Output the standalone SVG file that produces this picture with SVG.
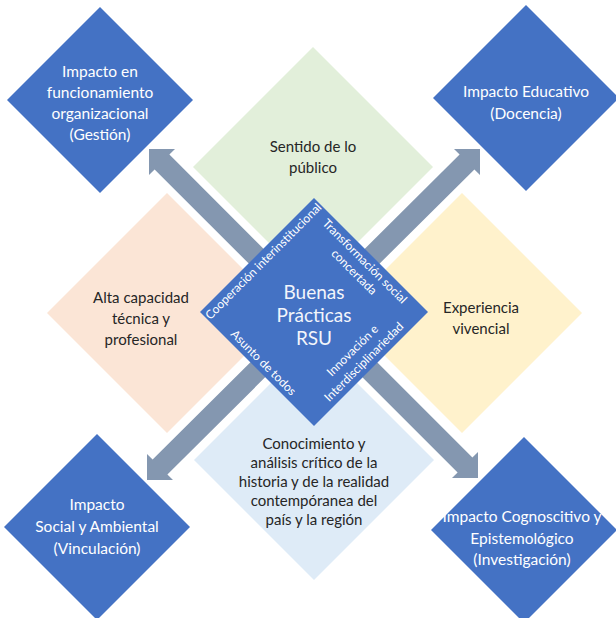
<svg xmlns="http://www.w3.org/2000/svg" width="616" height="618" viewBox="0 0 616 618">
<style>
.blue{fill:#4472c4}
.arrow{fill:#8497b0}
.t{font-family:Lato,"Liberation Sans",sans-serif;text-anchor:middle}
.dark{fill:#262626;font-size:15px}
.white{fill:#ffffff;font-size:15.5px}
.mid{fill:#f2f5fb;font-size:19px}
.small{fill:#ffffff;font-size:12px}
</style>
<rect width="616" height="618" fill="#ffffff"/>
<g id="sentido">
<polygon points="313,47 433,167 313,287 193,167" fill="#e2efda"/>
<text class="t dark" x="313" y="152">Sentido de lo</text>
<text class="t dark" x="313" y="173">público</text>
</g>
<g id="alta">
<polygon points="167,193 287,313 167,433 47,313" fill="#fbe5d6"/>
<text class="t dark" x="141" y="303">Alta capacidad</text>
<text class="t dark" x="141" y="324">técnica y</text>
<text class="t dark" x="141" y="345">profesional</text>
</g>
<g id="experiencia">
<polygon points="462,193 582,313 462,433 342,313" fill="#fff2cc"/>
<text class="t dark" x="481" y="313">Experiencia</text>
<text class="t dark" x="481" y="334">vivencial</text>
</g>
<g id="conocimiento">
<polygon points="314,340 434,460 314,580 194,460" fill="#deebf7"/>
<text class="t dark" x="314" y="449">Conocimiento y</text>
<text class="t dark" x="314" y="468">análisis crítico de la</text>
<text class="t dark" x="314" y="487">historia y de la realidad</text>
<text class="t dark" x="314" y="506">contempóranea del</text>
<text class="t dark" x="314" y="525">país y la región</text>
</g>
<g id="connectors">
<polygon class="arrow" points="149,149 175,149 169.4,154.6 321.4,306.6 306.6,321.4 154.6,169.4 149,175"/>
<polygon class="arrow" points="480,149 480,175 474.4,169.4 321.4,321.4 306.6,306.6 459.6,154.6 454,149"/>
<polygon class="arrow" points="147,480 173,480 167.4,474.4 321.4,321.4 306.6,306.6 152.6,459.6 147,454"/>
<polygon class="arrow" points="478,478 478,452 472.4,457.6 321.4,306.6 306.6,321.4 457.6,472.4 452,478"/>
</g>
<g id="gestion">
<polygon class="blue" points="100,7 193,100 100,193 7,100"/>
<text class="t white" x="100" y="77">Impacto en</text>
<text class="t white" x="100" y="98">funcionamiento</text>
<text class="t white" x="100" y="119">organizacional</text>
<text class="t white" x="100" y="140">(Gestión)</text>
</g>
<g id="docencia">
<polygon class="blue" points="526,5 619,98 526,191 433,98"/>
<text class="t white" x="526" y="97">Impacto Educativo</text>
<text class="t white" x="526" y="119">(Docencia)</text>
</g>
<g id="vinculacion">
<polygon class="blue" points="97,434 190,527 97,620 4,527"/>
<text class="t white" x="97" y="510">Impacto</text>
<text class="t white" x="97" y="532">Social y Ambiental</text>
<text class="t white" x="97" y="554">(Vinculación)</text>
</g>
<g id="investigacion">
<polygon class="blue" points="524,437 617,530 524,623 431,530"/>
<text class="t white" x="522" y="522">Impacto Cognoscitivo y</text>
<text class="t white" x="522" y="544">Epistemológico</text>
<text class="t white" x="522" y="565">(Investigación)</text>
</g>
<g id="buenas-practicas">
<polygon class="blue" points="314,198 428,312 314,426 200,312"/>
<text class="t mid" x="314" y="299">Buenas</text>
<text class="t mid" x="314" y="322">Prácticas</text>
<text class="t mid" x="314" y="345">RSU</text>
<g transform="translate(257,255) rotate(-45)">
<text class="t small" x="0" y="13">Cooperación interinstitucional</text>
</g>
<g transform="translate(371,255) rotate(45)">
<text class="t small" x="0" y="13">Transformación social</text>
<text class="t small" x="0" y="28">concertada</text>
</g>
<g transform="translate(371,369) rotate(-45)">
<text class="t small" x="0" y="-22">Innovación e</text>
<text class="t small" x="0" y="-6">Interdisciplinariedad</text>
</g>
<g transform="translate(257,369) rotate(45)">
<text class="t small" x="0" y="-5">Asunto de todos</text>
</g>
</g>
</svg>
